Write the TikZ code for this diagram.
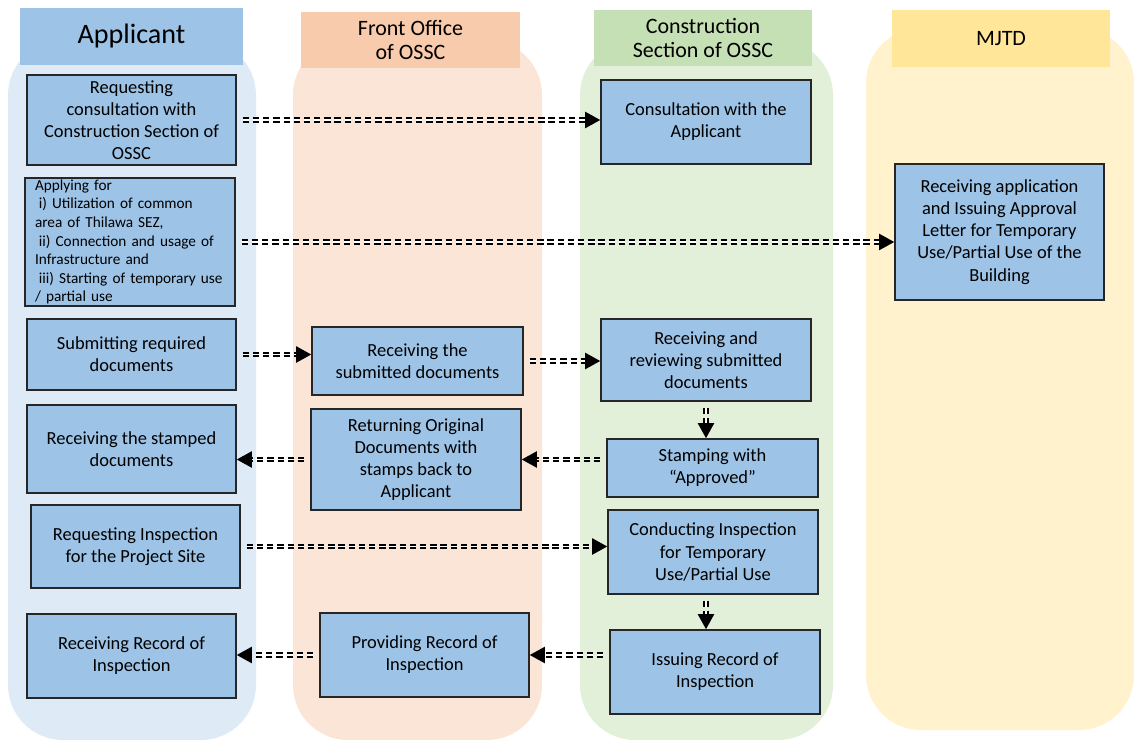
\documentclass[tikz,border=0pt]{standalone}
\usepackage{fontspec}
\setmainfont{Carlito}
\usetikzlibrary{arrows.meta}
\definecolor{appLane}{RGB}{222,235,247}
\definecolor{appHead}{RGB}{157,195,230}
\definecolor{frontLane}{RGB}{251,229,214}
\definecolor{frontHead}{RGB}{248,203,173}
\definecolor{consLane}{RGB}{226,240,217}
\definecolor{consHead}{RGB}{197,224,180}
\definecolor{mjtdLane}{RGB}{255,242,204}
\definecolor{mjtdHead}{RGB}{255,230,153}
\definecolor{boxFill}{RGB}{157,195,230}

\begin{document}
\begin{tikzpicture}[x=0.02cm,y=-0.02cm]
%%%%%%%%%%%%%%%%%%%%%%%%%%%%%%%%%%%%%%%%%%%%%%%%%%%%%%%%%%%%%%
%LANES/BACKGROUND
\useasboundingbox (0,0) rectangle (1134,740);
\tikzstyle{lane}=[rounded corners=1.1cm]
\fill[lane,appLane] (8,40) rectangle (256,740);
\fill[lane,frontLane] (293,40) rectangle (542,740);
\fill[lane,consLane] (580,40) rectangle (833,740);
\fill[lane,mjtdLane] (866,28) rectangle (1134,730);

%headers
\tikzstyle{head}=[inner sep=0pt,align=center,font=\fontsize{12.5}{14}\selectfont]
\node[head,fill=appHead,minimum width=4.46cm,minimum height=1.14cm,font=\fontsize{16}{18}\selectfont] (headApp) at (131.5,36.5) {Applicant};
\node[head,fill=frontHead,minimum width=4.38cm,minimum height=1.12cm] (headFront) at (410.5,40) {Front Office\\of OSSC};
\node[head,fill=consHead,minimum width=4.36cm,minimum height=1.12cm] (headCons) at (703,38) {Construction\\Section of OSSC};
\node[head,fill=mjtdHead,minimum width=4.36cm,minimum height=1.14cm] (headMjtd) at (1001,38.5) {MJTD};

%%%%%%%%%%%%%%%%%%%%%%%%%%%%%%%%%%%%%%%%%%%%%%%%%%%%%%%%%%%%%%
%boxes
%vars
\tikzstyle{task}=[draw=black!85,line width=0.9pt,fill=boxFill,align=center,inner sep=2pt,font=\fontsize{10.5}{12.6}\selectfont]
\tikzstyle{flow}=[double,double distance=0.9pt,line width=1.2pt,dash pattern=on 3.6pt off 2.2pt,shorten <=0.12cm,-{Triangle[length=0.3cm,width=0.32cm]}]

%Applicant
\node[task,minimum width=4.18cm,minimum height=1.8cm] (app1) at (131.5,120) {Requesting\\consultation with\\Construction Section of\\OSSC};
\node[task,minimum width=4.2cm,minimum height=2.56cm,text width=3.8cm,align=left,inner xsep=0.2cm,inner ysep=1pt,font=\fontsize{8.7}{10.6}\selectfont] (app2) at (130,242) {Applying for\\\hspace*{0.25em}i) Utilization of common\\area of Thilawa SEZ,\\\hspace*{0.25em}ii) Connection and usage of\\Infrastructure and\\\hspace*{0.25em}iii) Starting of temporary use\\/ partial use};
\node[task,minimum width=4.18cm,minimum height=1.42cm] (app3) at (131.5,354.5) {Submitting required\\documents};
\node[task,minimum width=4.18cm,minimum height=1.76cm] (app4) at (131.5,449) {Receiving the stamped\\documents};
\node[task,minimum width=4.18cm,minimum height=1.66cm] (app5) at (135.5,546.5) {Requesting Inspection\\for the Project Site};
\node[task,minimum width=4.18cm,minimum height=1.68cm] (app6) at (131.5,656) {Receiving Record of\\Inspection};

%Front Office
\node[task,minimum width=4.22cm,minimum height=1.36cm] (front1) at (417.5,361) {Receiving the\\submitted documents};
\node[task,minimum width=4.2cm,minimum height=2.02cm] (front2) at (416,459.5) {Returning Original\\Documents with\\stamps back to\\Applicant};
\node[task,minimum width=4.18cm,minimum height=1.68cm] (front3) at (424.5,655) {Providing Record of\\Inspection};

%Construction Section
\node[task,minimum width=4.2cm,minimum height=1.68cm] (cons1) at (706,122) {Consultation with the\\Applicant};
\node[task,minimum width=4.2cm,minimum height=1.64cm] (cons2) at (706,360) {Receiving and\\reviewing submitted\\documents};
\node[task,minimum width=4.22cm,minimum height=1.16cm] (cons3) at (712.5,468) {Stamping with\\``Approved''};
\node[task,minimum width=4.2cm,minimum height=1.68cm] (cons4) at (713,552) {Conducting Inspection\\for Temporary\\Use/Partial Use};
\node[task,minimum width=4.2cm,minimum height=1.68cm] (cons5) at (715,672) {Issuing Record of\\Inspection};

%MJTD
\node[task,minimum width=4.18cm,minimum height=2.72cm] (mjtd1) at (999.5,232) {Receiving application\\and Issuing Approval\\Letter for Temporary\\Use/Partial Use of the\\Building};

%%%%%%%%%%%%%%%%%%%%%%%%%%%%%%%%%%%%%%%%%%%%%%%%%%%%%%%%%%%%%%
%ARROWS
%consultation
\draw[flow] (app1.east) -- (app1.east -| cons1.west);
%application to MJTD
\draw[flow] (app2.east) -- (app2.east -| mjtd1.west);
%documents
\draw[flow] (app3.east) -- (app3.east -| front1.west);
\draw[flow] (front1.east) -- (front1.east -| cons2.west);
\draw[flow] (cons2.south) -- (cons2.south |- cons3.north);
\draw[flow] (cons3.west |- front2.east) -- (front2.east);
\draw[flow] (front2.west) -- (front2.west -| app4.east);
%inspection
\draw[flow] (app5.east) -- (app5.east -| cons4.west);
\draw[flow] ([xshift=-0.14cm]cons4.south) -- ([xshift=-0.14cm]cons4.south |- cons5.north);
\draw[flow] (cons5.west |- front3.east) -- (front3.east);
\draw[flow] (front3.west) -- (front3.west -| app6.east);
\end{tikzpicture}
\end{document}
